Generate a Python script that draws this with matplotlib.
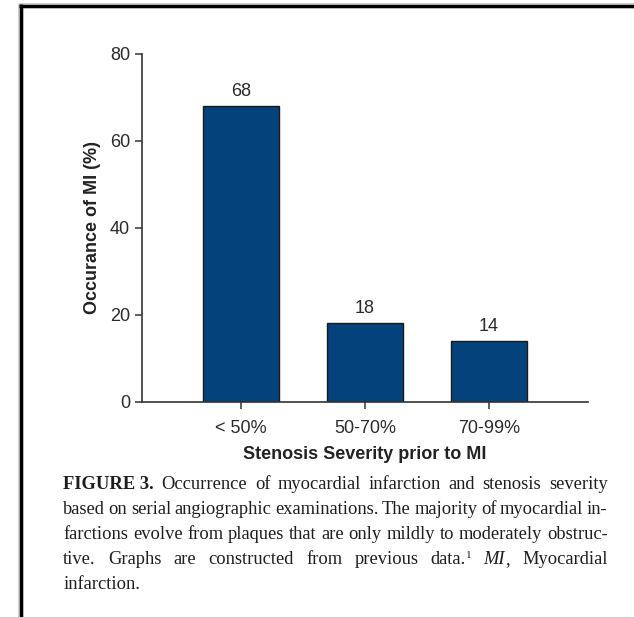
import matplotlib
matplotlib.use("Agg")
import matplotlib.pyplot as plt
from matplotlib.lines import Line2D

W, H = 634, 618

categories = ["< 50%", "50-70%", "70-99%"]
occurrence = [68, 18, 14]
y_ticks = [0, 20, 40, 60, 80]

x_label = "Stenosis Severity prior to MI"
y_label = "Occurance of MI (%)"

# строки подписи; слово — либо строка, либо список сегментов (текст, стиль)
caption_lines = [
    [[("FIGURE 3.", "bold")], "Occurrence", "of", "myocardial", "infarction",
     "and", "stenosis", "severity"],
    ["based", "on", "serial", "angiographic", "examinations.", "The", "majority",
     "of", "myocardial", "in-"],
    ["farctions", "evolve", "from", "plaques", "that", "are", "only", "mildly",
     "to", "moderately", "obstruc-"],
    ["tive.", "Graphs", "are", "constructed", "from", "previous",
     [("data.", "normal"), ("1", "sup")], [("MI", "italic"), (",", "normal")],
     "Myocardial"],
    ["infarction."],
]

BAR_COLOR = "#03427a"
TEXT_COLOR = "#2b2b2b"
SANS = "Liberation Sans"
SERIF = "Liberation Serif"


def px(x, y):
    """Пиксели (от верхнего левого угла) -> доли фигуры."""
    return x / W, 1 - y / H


def draw_frame(fig):
    # рамка вокруг рисунка: сверху и слева чёрная, снизу тонкая серая
    for color, lw in (("#bdbdbd", 5.5), ("black", 3.2)):
        fig.add_artist(Line2D([19 / W, 1.0], [1 - 5.5 / H] * 2, color=color,
                              lw=lw * 72 / 100, solid_capstyle="butt"))
        fig.add_artist(Line2D([21 / W] * 2, [0.0, 1 - 4 / H], color=color,
                              lw=lw * 72 / 100, solid_capstyle="butt"))
    fig.add_artist(Line2D([0.0, 1.0], [1 - 616.8 / H] * 2, color="#c8c8c8",
                          lw=1.0 * 72 / 100))


def draw_chart(fig):
    left, top, right, bottom = 141.7, 54.0, 588.0, 401.7
    ax = fig.add_axes([left / W, 1 - bottom / H, (right - left) / W, (bottom - top) / H])

    x = list(range(len(categories)))
    bars = ax.bar(x, occurrence, width=0.61, color=BAR_COLOR,
                  edgecolor="#1a1a1a", linewidth=1.0, zorder=2)
    for rect, v in zip(bars, occurrence):
        ax.annotate(str(v), (rect.get_x() + rect.get_width() / 2, rect.get_height()),
                    xytext=(0, 10), textcoords="offset pixels", ha="center",
                    va="baseline", fontsize=13, family=SANS, color=TEXT_COLOR)

    ax.set_xlim(-0.8, 2.8)
    ax.set_ylim(0, 80)
    ax.set_xticks(x)
    ax.set_xticklabels(categories)
    ax.set_yticks(y_ticks)

    for side in ("top", "right"):
        ax.spines[side].set_visible(False)
    for side in ("left", "bottom"):
        ax.spines[side].set_linewidth(1.2)
        ax.spines[side].set_color("#333333")

    ax.tick_params(axis="both", direction="out", length=5, width=1.1,
                   color="#333333", labelsize=13, labelcolor=TEXT_COLOR)
    ax.tick_params(axis="x", pad=8)
    for lbl in ax.get_xticklabels() + ax.get_yticklabels():
        lbl.set_family(SANS)

    ax.set_xlabel(x_label, fontsize=13, fontweight="bold", family=SANS,
                  color="#222222", labelpad=7)
    ax.set_ylabel(y_label, fontsize=13, fontweight="bold", family=SANS,
                  color="#222222", labelpad=6)
    return ax


def make_segment(fig, text, style, size):
    kw = dict(family=SERIF, fontsize=size, color="#1e1e1e", va="baseline", ha="left")
    if style == "bold":
        kw["fontweight"] = "bold"
    elif style == "italic":
        kw["fontstyle"] = "italic"
    elif style == "sup":
        kw["fontsize"] = size * 0.6
    return fig.text(0, 0, text, **kw)


def draw_caption(fig, size=13.3):
    """Подпись с выравниванием по ширине: 63..607 px."""
    renderer = fig.canvas.get_renderer()
    x_left, x_right = 63.3, 607.5
    baselines = [489, 514, 539, 564, 589]

    for line, base in zip(caption_lines, baselines):
        words = []
        for word in line:
            segs = [(word, "normal")] if isinstance(word, str) else word
            items = []
            for text, style in segs:
                t = make_segment(fig, text, style, size)
                w = t.get_window_extent(renderer).width
                items.append((t, style, w))
            words.append(items)

        widths = [sum(w for _, _, w in items) for items in words]
        if len(words) > 1 and line is not caption_lines[-1]:
            gap = (x_right - x_left - sum(widths)) / (len(words) - 1)
        else:
            gap = size * 100 / 72 * 0.25

        cur = x_left
        for items, wsum in zip(words, widths):
            sx = cur
            for t, style, w in items:
                dy = -6 if style == "sup" else 0
                t.set_position(px(sx, base + dy))
                sx += w
            cur += wsum + gap


def main():
    fig = plt.figure(figsize=(W / 100, H / 100), dpi=100)
    fig.patch.set_facecolor("white")
    draw_frame(fig)
    draw_chart(fig)
    draw_caption(fig)
    fig.savefig("out.png", dpi=100)
    plt.close(fig)


if __name__ == "__main__":
    main()
